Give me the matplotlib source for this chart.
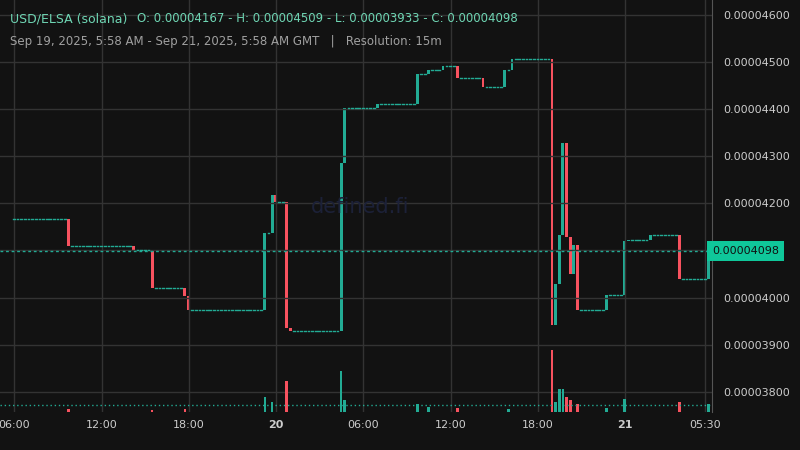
import numpy as np
import matplotlib.pyplot as plt

# price steps (candle index, close) in units of 1e-5, flat candles in between
step_idx = [0, 15, 33, 38, 47, 48, 69, 71, 72, 75, 76, 90, 91, 100, 111, 114, 118, 122,
            129, 135, 137, 148, 149, 150, 151, 152, 153, 154, 155, 163, 168, 169, 175, 183, 191]
step_close = [4.167, 4.110, 4.101, 4.020, 4.003, 3.974, 4.137, 4.218, 4.203, 3.935, 3.929,
              4.286, 4.403, 4.411, 4.475, 4.483, 4.492, 4.466, 4.447, 4.483, 4.507, 3.942,
              4.029, 4.133, 4.328, 4.129, 4.050, 4.112, 3.974, 4.006, 4.120, 4.122, 4.133,
              4.040, 4.098]
n_candles = 192

vol_idx = [15, 38, 47, 69, 71, 75, 90, 91, 111, 114, 122, 136, 148, 149, 150, 151, 152,
           153, 155, 163, 168, 183, 191]
vol_val = [3, 2, 3, 15, 10, 30, 40, 12, 8, 5, 4, 3, 60, 10, 22, 22, 15, 12, 8, 4, 13, 10, 8]

tick_hours = [0.03, 6.03, 12.03, 18.03, 24.03, 30.03, 36.03, 42.03, 47.53]
tick_labels = ["06:00", "12:00", "18:00", "20", "06:00", "12:00", "18:00", "21", "05:30"]
price_ticks = [3.8, 3.9, 4.0, 4.1, 4.2, 4.3, 4.4, 4.5, 4.6]

UP = "#22ab94"
DN = "#f7525f"
BG = "#121212"

close = np.zeros(n_candles)
for k, i in enumerate(step_idx):
    close[i:] = step_close[k]
opn = np.concatenate([[close[0]], close[:-1]])
t = np.arange(n_candles) * 0.25

fig = plt.figure(figsize=(8, 4.5), dpi=100, facecolor=BG)
ax = fig.add_axes([0, 38 / 450, 712 / 800, 412 / 450])
ax.set_facecolor(BG)

vax = ax.twinx()
vax.set_ylim(0, 60 * 412 / 62)
for k, i in enumerate(vol_idx):
    vax.bar(t[i], vol_val[k], width=0.18, color=UP if close[i] >= opn[i] else DN, linewidth=0)
vax.axhline(7, color=UP, ls=(0, (1, 2)), lw=1)
vax.set_yticks([])
for s in vax.spines.values():
    s.set_visible(False)

w = 0.2
for i in range(n_candles):
    o, c = opn[i], close[i]
    col = UP if c >= o else DN
    if abs(c - o) < 1e-6:
        ax.plot([t[i] - 0.06, t[i] + 0.06], [c, c], color=UP, lw=1)
    else:
        ax.bar(t[i], c - o, bottom=o, width=w, color=col, linewidth=0)

ax.axhline(close[-1], color=UP, ls=(0, (2, 2)), lw=1)
ax.set_xlim(-0.96, 48.0)
ax.set_ylim(3.757, 4.632)
ax.set_xticks(tick_hours)
ax.set_xticklabels(tick_labels)
for lab in ax.get_xticklabels():
    if lab.get_text() in ("20", "21"):
        lab.set_fontweight("bold")
        lab.set_color("#ffffff")
ax.set_yticks(price_ticks)
# the 0.00004100 label sits under the current-price box
ax.set_yticklabels(["" if abs(p - 4.1) < 1e-9 else "%.8f" % (p * 1e-5) for p in price_ticks])
ax.yaxis.tick_right()
ax.tick_params(colors="#cccccc", labelsize=8, length=0, pad=6)
ax.tick_params(axis="y", pad=8)
ax.grid(True, color="#333333", lw=1)
for s in ["top", "left", "bottom"]:
    ax.spines[s].set_visible(False)
ax.spines["right"].set_visible(True)
ax.spines["right"].set_color("#555555")

fig.text(360 / 800, 1 - 207 / 450, "defined.fi", ha="center", va="center",
         fontsize=15, color="#1c2138", zorder=0)

ax.text(1.0, close[-1], "%.8f" % (close[-1] * 1e-5), transform=ax.get_yaxis_transform(),
        ha="left", va="center", fontsize=8, color="#111111",
        bbox=dict(boxstyle="square,pad=0.45", fc="#0fc79a", ec="none"))

fig.text(10 / 800, 1 - 19 / 450, "USD/ELSA (solana)", color="#6fd6b4", fontsize=9, va="center")
fig.text(137 / 800, 1 - 19 / 450, "O: 0.00004167 - H: 0.00004509 - L: 0.00003933 - C: 0.00004098",
         color="#6fd6b4", fontsize=8.5, va="center")
fig.text(10 / 800, 1 - 41 / 450,
         "Sep 19, 2025, 5:58 AM - Sep 21, 2025, 5:58 AM GMT   |   Resolution: 15m",
         color="#a0a0a0", fontsize=8.5, va="center")

fig.savefig("out.png", facecolor=BG)
